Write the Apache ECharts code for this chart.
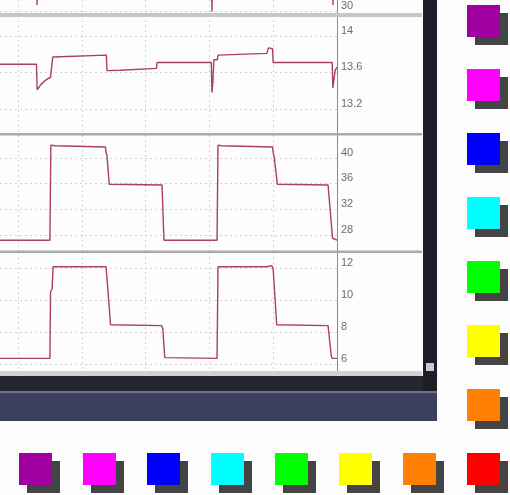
<!DOCTYPE html>
<html>
<head>
<meta charset="utf-8">
<script src="https://cdn.jsdelivr.net/npm/echarts@6/dist/echarts.min.js"></script>
<style>
html,body{margin:0;padding:0;background:#fdfdfd;}
#chart{width:510px;height:495px;}
</style>
</head>
<body>
<div id="chart"></div>
<script>
// ---- data (x in grid divisions, y in panel units) ----
const xDivisions = [0, 1, 2, 3, 4, 5];
const topTrace = [[-0.4,36],[0.295,36],[0.298,31],[0.305,36],[3.035,36],[3.04,29.9],[3.05,36],[4.93,36],[4.937,31],[4.945,36],[5.0,36]];
const voltTrace = [[-0.4,13.69],[0.29,13.69],[0.30,13.41],[0.32,13.40],[0.36,13.47],[0.44,13.52],[0.51,13.55],[0.535,13.56],[0.545,13.77],[0.57,13.79],[1.385,13.79],[1.395,13.62],[1.6,13.625],[2.17,13.645],[2.18,13.71],[3.03,13.71],[3.04,13.38],[3.055,13.50],[3.07,13.74],[3.125,13.74],[3.135,13.79],[3.9,13.81],[3.925,13.87],[3.99,13.86],[4.0,13.71],[4.925,13.71],[4.935,13.43],[4.95,13.45],[4.97,13.62],[5.0,13.66]];
const midTrace = [[-0.4,27.2],[0.50,27.2],[0.515,42.0],[0.58,41.9],[1.37,41.7],[1.38,40.8],[1.395,40.4],[1.43,35.9],[1.45,35.8],[2.257,35.8],[2.288,27.2],[3.12,27.2],[3.135,42.0],[3.19,41.9],[3.99,41.7],[4.0,40.8],[4.015,40.2],[4.065,35.9],[4.08,35.8],[4.86,35.8],[4.93,27.5],[4.95,27.2],[5.0,27.2]];
const lowTrace = [[-0.4,6.35],[0.50,6.35],[0.51,10.5],[0.535,10.7],[0.55,12.08],[1.38,12.08],[1.41,10.6],[1.45,8.45],[1.46,8.4],[2.25,8.4],[2.27,8.2],[2.30,6.4],[2.32,6.35],[3.12,6.35],[3.135,12.08],[3.90,12.08],[3.915,12.2],[3.98,12.15],[4.0,11.9],[4.055,8.45],[4.07,8.4],[4.86,8.4],[4.91,6.5],[4.925,6.35],[5.0,6.35]];

const topTicks = [30];
const voltTicks = [14, 13.6, 13.2];
const midTicks = [40, 36, 32, 28];
const lowTicks = [12, 10, 8, 6];

const swatchColors = ['#a0009f','#ff00ff','#0000ff','#00ffff','#00ff00','#ffff00','#ff8000','#ff0000'];
const swatchCols = ['c1','c2','c3','c4','c5','c6','c7','c8'];
const swatchRows = ['r1','r2','r3','r4','r5','r6','r7','r8'];

// ---- layout ----
const panels = [
  {top:0, height:15, min:29.33, max:31.83, ticks:topTicks, data:topTrace},
  {top:15, height:120, min:12.915, max:14.23, ticks:voltTicks, data:voltTrace},
  {top:135, height:117, min:25.36, max:43.58, ticks:midTicks, data:midTrace},
  {top:252, height:121, min:5.4375, max:13, ticks:lowTicks, data:lowTrace}
];
const gridLine = {show:true, lineStyle:{color:'#d2d2d2', type:[2,3], width:1}};
const grids = [], xAxes = [], yAxes = [], series = [];
panels.forEach((p, i) => {
  grids.push({left:0, width:337, top:p.top, height:p.height});
  xAxes.push({type:'value', gridIndex:i, min:-0.2821, max:5,
    axisLine:{show:false, onZero:false}, axisTick:{show:false, customValues:xDivisions}, axisLabel:{show:false}, splitLine:gridLine});
  yAxes.push({type:'value', gridIndex:i, position:'right', min:p.min, max:p.max,
    axisLine:{show:true, onZero:false, lineStyle:{color:'#8c8c8c', width:1}},
    axisTick:{show:false, customValues:p.ticks},
    axisLabel:{customValues:p.ticks, color:'#6c6c6c', fontSize:11, fontFamily:'Liberation Sans, Arial, sans-serif', verticalAlign:'bottom', margin:4},
    splitLine:gridLine});
  series.push({type:'line', xAxisIndex:i, yAxisIndex:i, data:p.data, showSymbol:false,
    lineStyle:{color:'#a8405e', width:1.4}, silent:true, animation:false});
});

// swatch grid
grids.push({left:35.5, top:21, width:448, height:448});
xAxes.push({type:'category', gridIndex:4, data:swatchCols, boundaryGap:false, show:false});
yAxes.push({type:'category', gridIndex:4, data:swatchRows, boundaryGap:false, inverse:true, show:false});
const swatchData = [];
swatchColors.forEach((c, i) => { swatchData.push({value:[swatchCols[i], swatchRows[7]], itemStyle:{color:c}}); });
swatchColors.slice(0,7).forEach((c, j) => { swatchData.push({value:[swatchCols[7], swatchRows[j]], itemStyle:{color:c}}); });
series.push({type:'scatter', xAxisIndex:4, yAxisIndex:4, symbol:'rect', symbolSize:[33,32], symbolOffset:[8,8],
  data:swatchData.map(d => ({value:d.value})), itemStyle:{color:'#444444', opacity:1}, silent:true, animation:false, z:2});
series.push({type:'scatter', xAxisIndex:4, yAxisIndex:4, symbol:'rect', symbolSize:[33,32],
  data:swatchData, itemStyle:{opacity:1}, silent:true, animation:false, z:3});

const chart = echarts.init(document.getElementById('chart'), null, {renderer:'canvas'});
chart.setOption({
  backgroundColor:'#fdfdfd',
  animation:false,
  grid:grids, xAxis:xAxes, yAxis:yAxes, series:series,
  graphic:[
    {type:'rect', shape:{x:0,y:13,width:422,height:4}, style:{fill:'#c6c6c6'}, z:10, silent:true},
    {type:'rect', shape:{x:0,y:133,width:422,height:2.5}, style:{fill:'#a9a9a9'}, z:10, silent:true},
    {type:'rect', shape:{x:0,y:250.5,width:422,height:2.5}, style:{fill:'#a9a9a9'}, z:10, silent:true},
    {type:'rect', shape:{x:0,y:371,width:422,height:5}, style:{fill:'#d2d2d2'}, z:10, silent:true},
    {type:'rect', shape:{x:0,y:376,width:437,height:15}, style:{fill:'#24262f'}, z:10, silent:true},
    {type:'rect', shape:{x:0,y:391,width:437,height:2}, style:{fill:'#70728a'}, z:10, silent:true},
    {type:'rect', shape:{x:0,y:393,width:437,height:28}, style:{fill:'#3c3f5f'}, z:10, silent:true},
    {type:'rect', shape:{x:423,y:0,width:14,height:391}, style:{fill:'#1d1d26'}, z:10, silent:true},
    {type:'rect', shape:{x:426,y:363,width:8,height:8}, style:{fill:'#c8c8d0'}, z:11, silent:true}
  ]
});
</script>
</body>
</html>
